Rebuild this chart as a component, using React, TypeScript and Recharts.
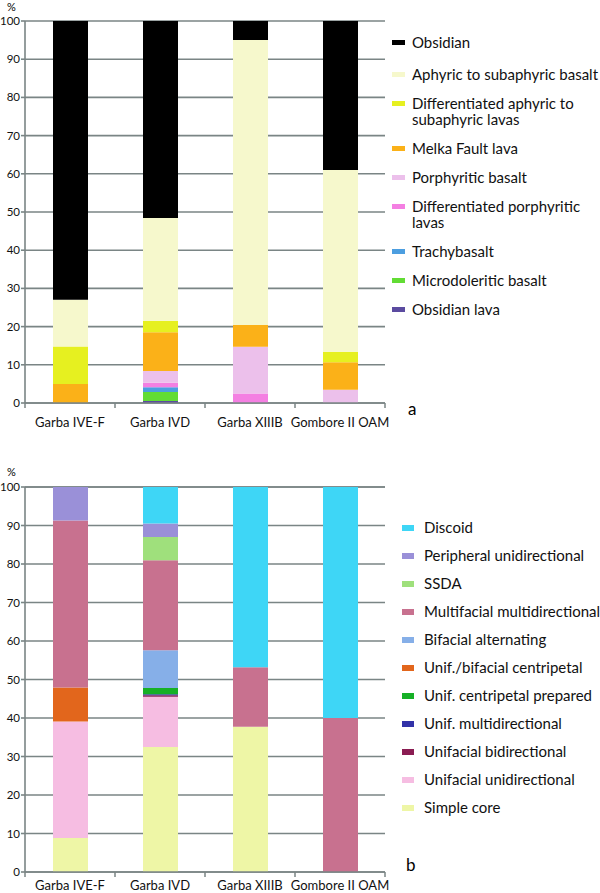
import { BarChart, Bar, XAxis, YAxis, CartesianGrid } from 'recharts';

const sites = ['Garba IVE-F', 'Garba IVD', 'Garba XIIIB', 'Gombore II OAM'];
const yTicks = [0, 10, 20, 30, 40, 50, 60, 70, 80, 90, 100];

// chart a: raw materials, listed bottom of the stack first
const rawNames = [
  'Obsidian lava',
  'Microdoleritic basalt',
  'Trachybasalt',
  'Differentiated porphyritic lavas',
  'Porphyritic basalt',
  'Melka Fault lava',
  'Differentiated aphyric to subaphyric lavas',
  'Aphyric to subaphyric basalt',
  'Obsidian',
];
const rawColors = ['#5b4ba0', '#62dc34', '#4c9ee0', '#f47fe2', '#ecc0eb', '#fbb118', '#e6f020', '#f6f8cc', '#000000'];
const obsidianLava = [0, 0.5, 0, 0];
const microdoleritic = [0, 2.4, 0, 0];
const trachybasalt = [0, 1.2, 0, 0];
const diffPorphyritic = [0, 1.2, 2.5, 0];
const porphyritic = [0, 3.1, 12.2, 3.5];
const melkaFault = [5, 10.1, 5.7, 7.2];
const diffAphyric = [9.8, 3.0, 0, 2.7];
const aphyric = [12.2, 26.9, 74.6, 47.6];
const obsidian = [73, 51.6, 5, 39];
const rawSeries = [obsidianLava, microdoleritic, trachybasalt, diffPorphyritic, porphyritic, melkaFault, diffAphyric, aphyric, obsidian];

// chart b: core reduction methods, bottom first
const coreNames = [
  'Simple core',
  'Unifacial unidirectional',
  'Unifacial bidirectional',
  'Unif. multidirectional',
  'Unif. centripetal prepared',
  'Unif./bifacial centripetal',
  'Bifacial alternating',
  'Multifacial multidirectional',
  'SSDA',
  'Peripheral unidirectional',
  'Discoid',
];
const coreColors = ['#eef6a6', '#f6bde2', '#8a1c52', '#3232a8', '#16b026', '#e2661c', '#86afe8', '#c8718f', '#9fe07c', '#9a90d8', '#3ed6f6'];
const simpleCore = [8.8, 32.5, 37.7, 0];
const unifUni = [30.3, 13.0, 0, 0];
const unifBi = [0, 0.4, 0, 0];
const unifMulti = [0, 0.3, 0, 0];
const unifCentPrep = [0, 1.6, 0, 0];
const unifBifCent = [8.8, 0, 0, 0];
const bifAlt = [0, 9.8, 0, 0];
const multifacial = [43.4, 23.4, 15.5, 40];
const ssda = [0, 6.0, 0, 0];
const peripheral = [8.7, 3.5, 0, 0];
const discoid = [0, 9.5, 46.8, 60];
const coreSeries = [simpleCore, unifUni, unifBi, unifMulti, unifCentPrep, unifBifCent, bifAlt, multifacial, ssda, peripheral, discoid];

const rawData = sites.map((site, i) => {
  const row: Record<string, string | number> = { site };
  rawNames.forEach((n, k) => (row[n] = rawSeries[k][i]));
  return row;
});
const coreData = sites.map((site, i) => {
  const row: Record<string, string | number> = { site };
  coreNames.forEach((n, k) => (row[n] = coreSeries[k][i]));
  return row;
});

const font = 'Lato, "Open Sans", sans-serif';
const gridColor = '#7a8585';
const band = 90;

function SiteTick(props: any) {
  const { x, y, payload, index, labelDy } = props;
  return (
    <g>
      <line x1={x - band / 2} y1={y - 8} x2={x - band / 2} y2={y - 3} stroke={gridColor} strokeWidth={1.5} />
      {index === sites.length - 1 && (
        <line x1={x + band / 2} y1={y - 8} x2={x + band / 2} y2={y - 3} stroke={gridColor} strokeWidth={1.5} />
      )}
      <text x={x} y={y + labelDy} textAnchor="middle" fontSize={13} fill="#111" fontFamily={font}>
        {payload.value}
      </text>
    </g>
  );
}

function StackChart({ data, names, colors, top, height, marginTop, xHeight, labelDy }: any) {
  return (
    <div style={{ position: 'absolute', left: 0, top }}>
      <BarChart width={600} height={height} data={data} margin={{ top: marginTop, right: 215, bottom: 0, left: 0 }} barSize={35}>
        <CartesianGrid vertical={false} stroke={gridColor} strokeWidth={1.6} />
        <XAxis dataKey="site" height={xHeight} stroke={gridColor} strokeWidth={1.6} tickLine={false} tick={<SiteTick labelDy={labelDy} />} interval={0} />
        <YAxis
          width={25}
          domain={[0, 100]}
          ticks={yTicks}
          interval={0}
          stroke={gridColor}
          strokeWidth={1.6}
          tickSize={4}
          tickMargin={1}
          tick={{ fontSize: 11.5, fill: '#111', fontFamily: font }}
        />
        {names.map((n: string, k: number) => (
          <Bar key={n} dataKey={n} stackId="s" fill={colors[k]} isAnimationActive={false} />
        ))}
      </BarChart>
    </div>
  );
}

function SideLegend({ names, colors, left, top, gap, firstGap, markerW, markerH, textLeft }: any) {
  const items = names.map((n: string, k: number) => ({ n, c: colors[k] })).reverse();
  return (
    <div style={{ position: 'absolute', left, top, width: 192 + textLeft, display: 'flex', flexDirection: 'column', gap, fontFamily: font, fontSize: 15, lineHeight: '16px', color: '#111' }}>
      {items.map((it: any, k: number) => (
        <div key={it.n} style={{ position: 'relative', paddingLeft: textLeft, marginBottom: k === 0 ? firstGap : 0 }}>
          <span style={{ position: 'absolute', left: 0, top: 6, width: markerW, height: markerH, background: it.c }} />
          {it.n}
        </div>
      ))}
    </div>
  );
}

export default function App() {
  return (
    <div style={{ position: 'absolute', left: 0, top: 0, width: 600, height: 893, background: '#fff', overflow: 'hidden', fontFamily: font }}>
      <div style={{ position: 'absolute', left: 7, top: 1, fontSize: 11, lineHeight: '11px' }}>%</div>
      <StackChart data={rawData} names={rawNames} colors={rawColors} top={0} height={430} marginTop={21} xHeight={27} labelDy={16} />
      <SideLegend names={rawNames} colors={rawColors} left={392} top={34} gap={13} firstGap={3} markerW={13} markerH={5} textLeft={20} />
      <div style={{ position: 'absolute', left: 408, top: 399, fontSize: 17, lineHeight: '20px' }}>a</div>

      <div style={{ position: 'absolute', left: 7, top: 466, fontSize: 11, lineHeight: '11px' }}>%</div>
      <StackChart data={coreData} names={coreNames} colors={coreColors} top={460} height={432} marginTop={27} xHeight={20} labelDy={10} />
      <SideLegend names={coreNames} colors={coreColors} left={402} top={519} gap={12} firstGap={0} markerW={12} markerH={6} textLeft={22} />
      <div style={{ position: 'absolute', left: 406, top: 855, fontSize: 17, lineHeight: '20px' }}>b</div>
    </div>
  );
}
